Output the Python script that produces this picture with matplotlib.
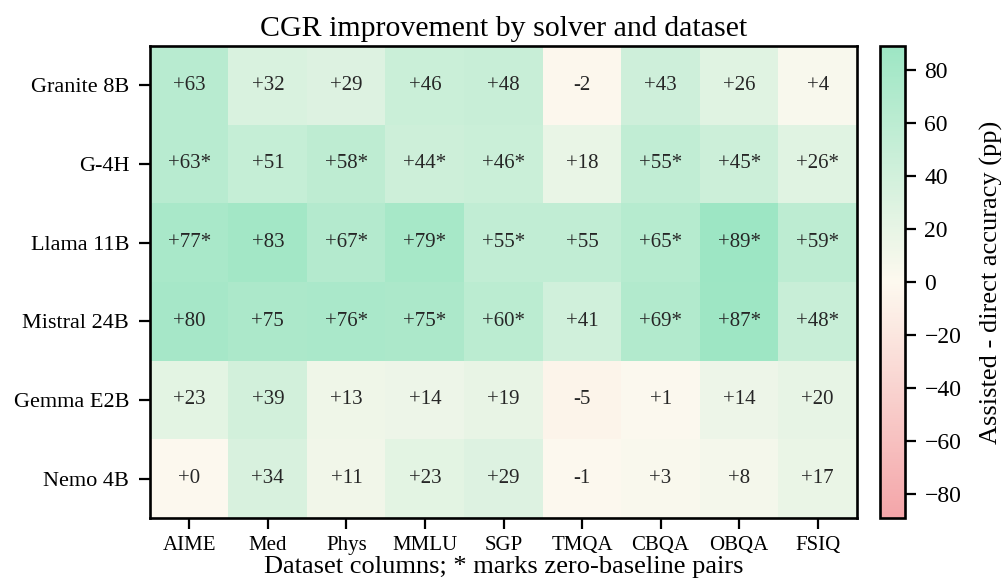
import numpy as np
import matplotlib
matplotlib.use('Agg')
import matplotlib.pyplot as plt
from matplotlib.colors import LinearSegmentedColormap

plt.rcParams['font.family'] = ['Liberation Serif', 'DejaVu Serif']

# Datos
solvers = ['Granite 8B', 'G-4H', 'Llama 11B', 'Mistral 24B', 'Gemma E2B', 'Nemo 4B']
datasets = ['AIME', 'Med', 'Phys', 'MMLU', 'SGP', 'TMQA', 'CBQA', 'OBQA', 'FSIQ']
gains = [
    [63, 32, 29, 46, 48, -2, 43, 26, 4],
    [63, 51, 58, 44, 46, 18, 55, 45, 26],
    [77, 83, 67, 79, 55, 55, 65, 89, 59],
    [80, 75, 76, 75, 60, 41, 69, 87, 48],
    [23, 39, 13, 14, 19, -5, 1, 14, 20],
    [0, 34, 11, 23, 29, -1, 3, 8, 17],
]
zero_base = [
    [0, 0, 0, 0, 0, 0, 0, 0, 0],
    [1, 0, 1, 1, 1, 0, 1, 1, 1],
    [1, 0, 1, 1, 1, 0, 1, 1, 1],
    [0, 0, 1, 1, 1, 0, 1, 1, 1],
    [0, 0, 0, 0, 0, 0, 0, 0, 0],
    [0, 0, 0, 0, 0, 0, 0, 0, 0],
]

vals = np.array(gains)
lim = np.abs(vals).max()
cmap = LinearSegmentedColormap.from_list('rg', ['#f4a5a9', '#fdf9ef', '#9de6c4'])

fig = plt.figure(figsize=(10.05, 5.84), dpi=100)
ax = fig.add_axes([150/1005, 66/584, 707/1005, 472/584])
cax = fig.add_axes([880/1005, 66/584, 25/1005, 472/584])

im = ax.imshow(vals, cmap=cmap, vmin=-lim, vmax=lim, aspect='auto')
for i in range(len(solvers)):
    for j in range(len(datasets)):
        v = gains[i][j]
        txt = ('+%d' % v) if v >= 0 else ('%d' % v)
        if zero_base[i][j]:
            txt += '*'
        ax.text(j, i, txt, ha='center', va='center', fontsize=15, color='#262626')

ax.set_xticks(range(len(datasets)))
ax.set_xticklabels(datasets, fontsize=15)
ax.set_yticks(range(len(solvers)))
ax.set_yticklabels(solvers, fontsize=16)
ax.tick_params(length=8, width=1.6, pad=5)
ax.tick_params(axis='y', pad=7)
for s in ax.spines.values():
    s.set_linewidth(1.9)
ax.set_title('CGR improvement by solver and dataset', fontsize=21.5, pad=7)
ax.set_xlabel('Dataset columns; * marks zero-baseline pairs', fontsize=19, labelpad=1)

cb = fig.colorbar(im, cax=cax)
cb.set_ticks([-80, -60, -40, -20, 0, 20, 40, 60, 80])
cb.ax.tick_params(labelsize=17, length=8, width=1.6, pad=6)
cb.outline.set_linewidth(1.9)
cb.set_label('Assisted - direct accuracy (pp)', fontsize=19, labelpad=13)

fig.savefig('out.png', dpi=100)
